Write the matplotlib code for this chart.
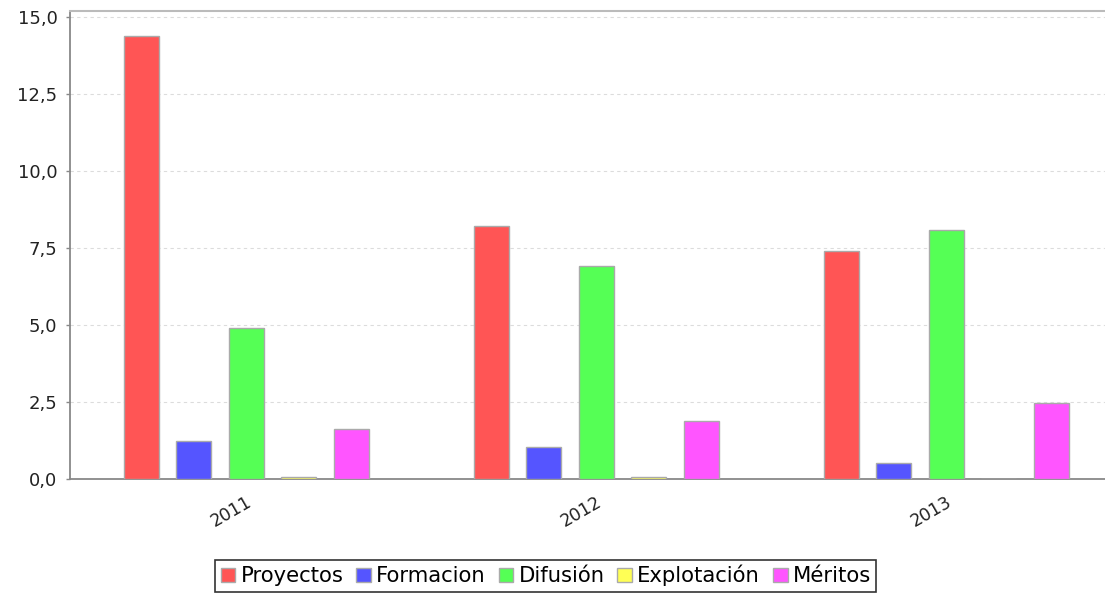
import matplotlib
matplotlib.use("Agg")
import matplotlib.pyplot as plt
import numpy as np

# valores (puntos por tipo de merito y año)
YEARS = ["2011", "2012", "2013"]
SERIES = ["Proyectos", "Formacion", "Difusión", "Explotación", "Méritos"]
proyectos = [14.38, 8.23, 7.39]
formacion = [1.23, 1.04, 0.52]
difusion = [4.92, 6.93, 8.10]
explotacion = [0.06, 0.06, 0.0]
meritos = [1.62, 1.88, 2.47]
COLORS = ["#ff5555", "#5555ff", "#55ff55", "#ffff55", "#ff55ff"]
YTICKS = [0.0, 2.5, 5.0, 7.5, 10.0, 12.5, 15.0]

values = [proyectos, formacion, difusion, explotacion, meritos]

fig = plt.figure(figsize=(11.05, 5.94), dpi=100)
ax = fig.add_axes([0.0633, 0.1931, 0.9367, 0.7884])

x = np.arange(len(YEARS))
step, width = 0.15, 0.1
for k, (name, vals, color) in enumerate(zip(SERIES, values, COLORS)):
    ax.bar(x + (k - 2) * step, vals, width, color=color, edgecolor="#aaaaaa",
           linewidth=1, label=name, zorder=3)

ax.set_xlim(-0.503, 2.454)
ax.set_ylim(0, 15.19)
ax.set_yticks(YTICKS)
ax.set_yticklabels([f"{v:.1f}".replace(".", ",") for v in YTICKS])
ax.set_xticks(x)
ax.set_xticklabels(YEARS, rotation=30, ha="right", rotation_mode="anchor")

ax.tick_params(axis="y", length=3, width=1, color="#888888", labelsize=13,
               labelcolor="#222222", pad=6)
ax.tick_params(axis="x", length=0, labelsize=12.5, labelcolor="#222222", pad=10)

ax.grid(True, axis="y", ls=(0, (3, 3)), lw=0.8, color="#dcdcdc", zorder=0)
ax.set_axisbelow(True)
for side in ("left", "bottom"):
    ax.spines[side].set_color("#888888")
    ax.spines[side].set_linewidth(1.3)
ax.spines["top"].set_color("#bbbbbb")
ax.spines["top"].set_linewidth(1.5)
ax.spines["right"].set_visible(False)

leg = fig.legend(loc="lower center", bbox_to_anchor=(0.494, 0.004), ncol=5,
                 fontsize=15.2, frameon=True, fancybox=False, edgecolor="black",
                 handlelength=0.7, handleheight=0.7, handletextpad=0.25,
                 columnspacing=0.6, borderpad=0.25, borderaxespad=0)
leg.get_frame().set_linewidth(1.2)

fig.savefig("out.png", dpi=100)
